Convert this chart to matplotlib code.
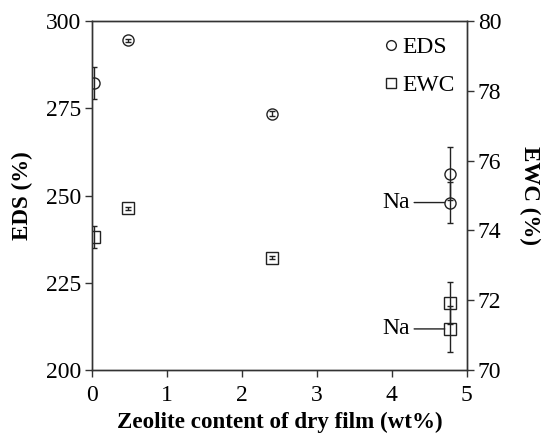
import matplotlib
matplotlib.use("Agg")
import matplotlib.pyplot as plt
from matplotlib.lines import Line2D

plt.rcParams['font.family'] = ['Liberation Serif', 'DejaVu Serif']
plt.rcParams['font.size'] = 17

# zeolite content (wt%) and measured swelling values
zeolite = [0.03, 0.48, 2.4, 4.78]
eds = [282.3, 294.5, 273.4, 256.2]
eds_err = [4.6, 0.4, 0.7, 7.6]
ewc = [73.82, 74.63, 73.22, 71.91]
ewc_err = [0.31, 0.03, 0.05, 0.6]

# Na-exchanged film
na_zeolite = 4.78
na_eds, na_eds_err = 248.0, 5.8
na_ewc, na_ewc_err = 71.18, 0.65

fig = plt.figure(figsize=(5.44, 4.38), dpi=100)
ax = fig.add_axes([0.169, 0.155, 0.689, 0.797])
ax2 = ax.twinx()

style = dict(fmt='none', ecolor='#222222', elinewidth=1, capsize=2.5, capthick=1)
mk = dict(linestyle='none', markerfacecolor='none',
          markeredgecolor='#222222', markeredgewidth=1)

ax.errorbar(zeolite, eds, yerr=eds_err, **style)
ax.plot(zeolite, eds, marker='o', markersize=8, **mk)
ax.errorbar([na_zeolite], [na_eds], yerr=[na_eds_err], **style)
ax.plot([na_zeolite], [na_eds], marker='o', markersize=8, **mk)

ax2.errorbar(zeolite, ewc, yerr=ewc_err, **style)
ax2.plot(zeolite, ewc, marker='s', markersize=8, **mk)
ax2.errorbar([na_zeolite], [na_ewc], yerr=[na_ewc_err], **style)
ax2.plot([na_zeolite], [na_ewc], marker='s', markersize=8, **mk)

arrow = dict(arrowstyle='-', color='#222222', lw=1, shrinkA=1, shrinkB=4)
ax.annotate('Na', xy=(na_zeolite, na_eds), xytext=(-29, 0),
            textcoords='offset points', ha='right', va='center', arrowprops=arrow)
ax2.annotate('Na', xy=(na_zeolite, na_ewc), xytext=(-29, 0),
             textcoords='offset points', ha='right', va='center', arrowprops=arrow)

ax.set_xlim(0, 5)
ax.set_ylim(200, 300)
ax2.set_ylim(70, 80)
ax.set_xticks(range(0, 6))
ax.set_yticks([200, 225, 250, 275, 300])
ax2.set_yticks([70, 72, 74, 76, 78, 80])

for a in (ax, ax2):
    a.tick_params(direction='out', length=5, width=1, color='#333333', labelsize=17, pad=3)
    for s in a.spines.values():
        s.set_color('#333333')
        s.set_linewidth(1)
ax.tick_params(axis='x', top=False, pad=6)

ax.set_xlabel('Zeolite content of dry film (wt%)', fontweight='bold', fontsize=16.6, labelpad=4)
ax.set_ylabel('EDS (%)', fontweight='bold', fontsize=16.6, labelpad=9)
ax2.set_ylabel('EWC (%)', fontweight='bold', fontsize=16.6, rotation=270, labelpad=28)

handles = [Line2D([], [], marker='o', markersize=7, **mk),
           Line2D([], [], marker='s', markersize=7, **mk)]
ax2.legend(handles, ['EDS', 'EWC'], loc='upper right', frameon=False, fontsize=17,
           handlelength=0.6, handletextpad=0.2, labelspacing=0.7,
           borderaxespad=0.1, bbox_to_anchor=(1.0, 0.99))

fig.savefig('out.png', dpi=100)
